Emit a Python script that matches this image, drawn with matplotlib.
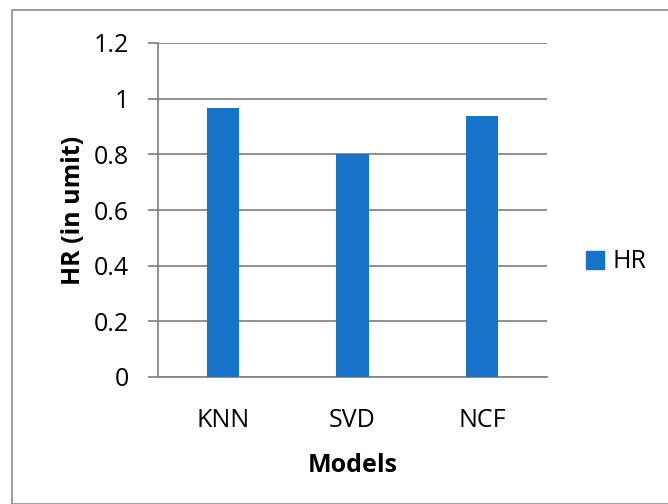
import matplotlib
matplotlib.use("Agg")
import matplotlib.pyplot as plt
from matplotlib.patches import Rectangle
from matplotlib.lines import Line2D

models = ["KNN", "SVD", "NCF"]
hr_values = [0.966, 0.80, 0.938]
y_ticks = [0, 0.2, 0.4, 0.6, 0.8, 1.0, 1.2]
y_tick_labels = ["0", "0.2", "0.4", "0.6", "0.8", "1", "1.2"]
series_name = "HR"

plt.rcParams["font.family"] = ["Open Sans", "DejaVu Sans"]

W, H = 668, 504
fig = plt.figure(figsize=(W / 100, H / 100), dpi=100)
fig.patch.set_facecolor("white")

# chart-area border
fig.patches.append(Rectangle((12 / W, 0), 1, 1 - 10 / H, transform=fig.transFigure,
                             fill=False, edgecolor="#8c8c8c", linewidth=1.2, zorder=0))

ax = fig.add_axes([158 / W, 1 - 377 / H, (547 - 158) / W, (377 - 43) / H])
bar_color = "#1773c9"
x = range(len(models))
ax.bar(x, hr_values, width=0.247, color=bar_color, zorder=3)

ax.set_xlim(-0.5, len(models) - 0.5)
ax.set_ylim(0, 1.2)
ax.set_yticks(y_ticks)
ax.set_yticklabels(y_tick_labels, fontsize=18)
ax.set_xticks(list(x))
ax.set_xticklabels(models, fontsize=18)

grid_color = "#868686"
ax.yaxis.grid(True, color=grid_color, linewidth=1.3, zorder=0)
ax.set_axisbelow(True)
for s in ["top", "right"]:
    ax.spines[s].set_visible(False)
for s in ["left", "bottom"]:
    ax.spines[s].set_color(grid_color)
    ax.spines[s].set_linewidth(1.3)
ax.tick_params(axis="y", length=7.2, width=1.3, color=grid_color, pad=13.5)
ax.tick_params(axis="x", length=0, pad=22)

ax.set_xlabel("Models", fontsize=18, fontweight="bold", labelpad=15)
ax.set_ylabel("HR (in umit)", fontsize=18, fontweight="bold", labelpad=6)

handle = Line2D([], [], marker="s", linestyle="none", markersize=12.5,
                markerfacecolor=bar_color, markeredgecolor=bar_color)
leg = fig.legend([handle], [series_name], loc="center left",
                 bbox_to_anchor=(585 / W, 1 - 262 / H), frameon=False,
                 fontsize=18, handlelength=0.8, handletextpad=0.3,
                 borderpad=0, borderaxespad=0)

fig.savefig("out.png", dpi=100)
